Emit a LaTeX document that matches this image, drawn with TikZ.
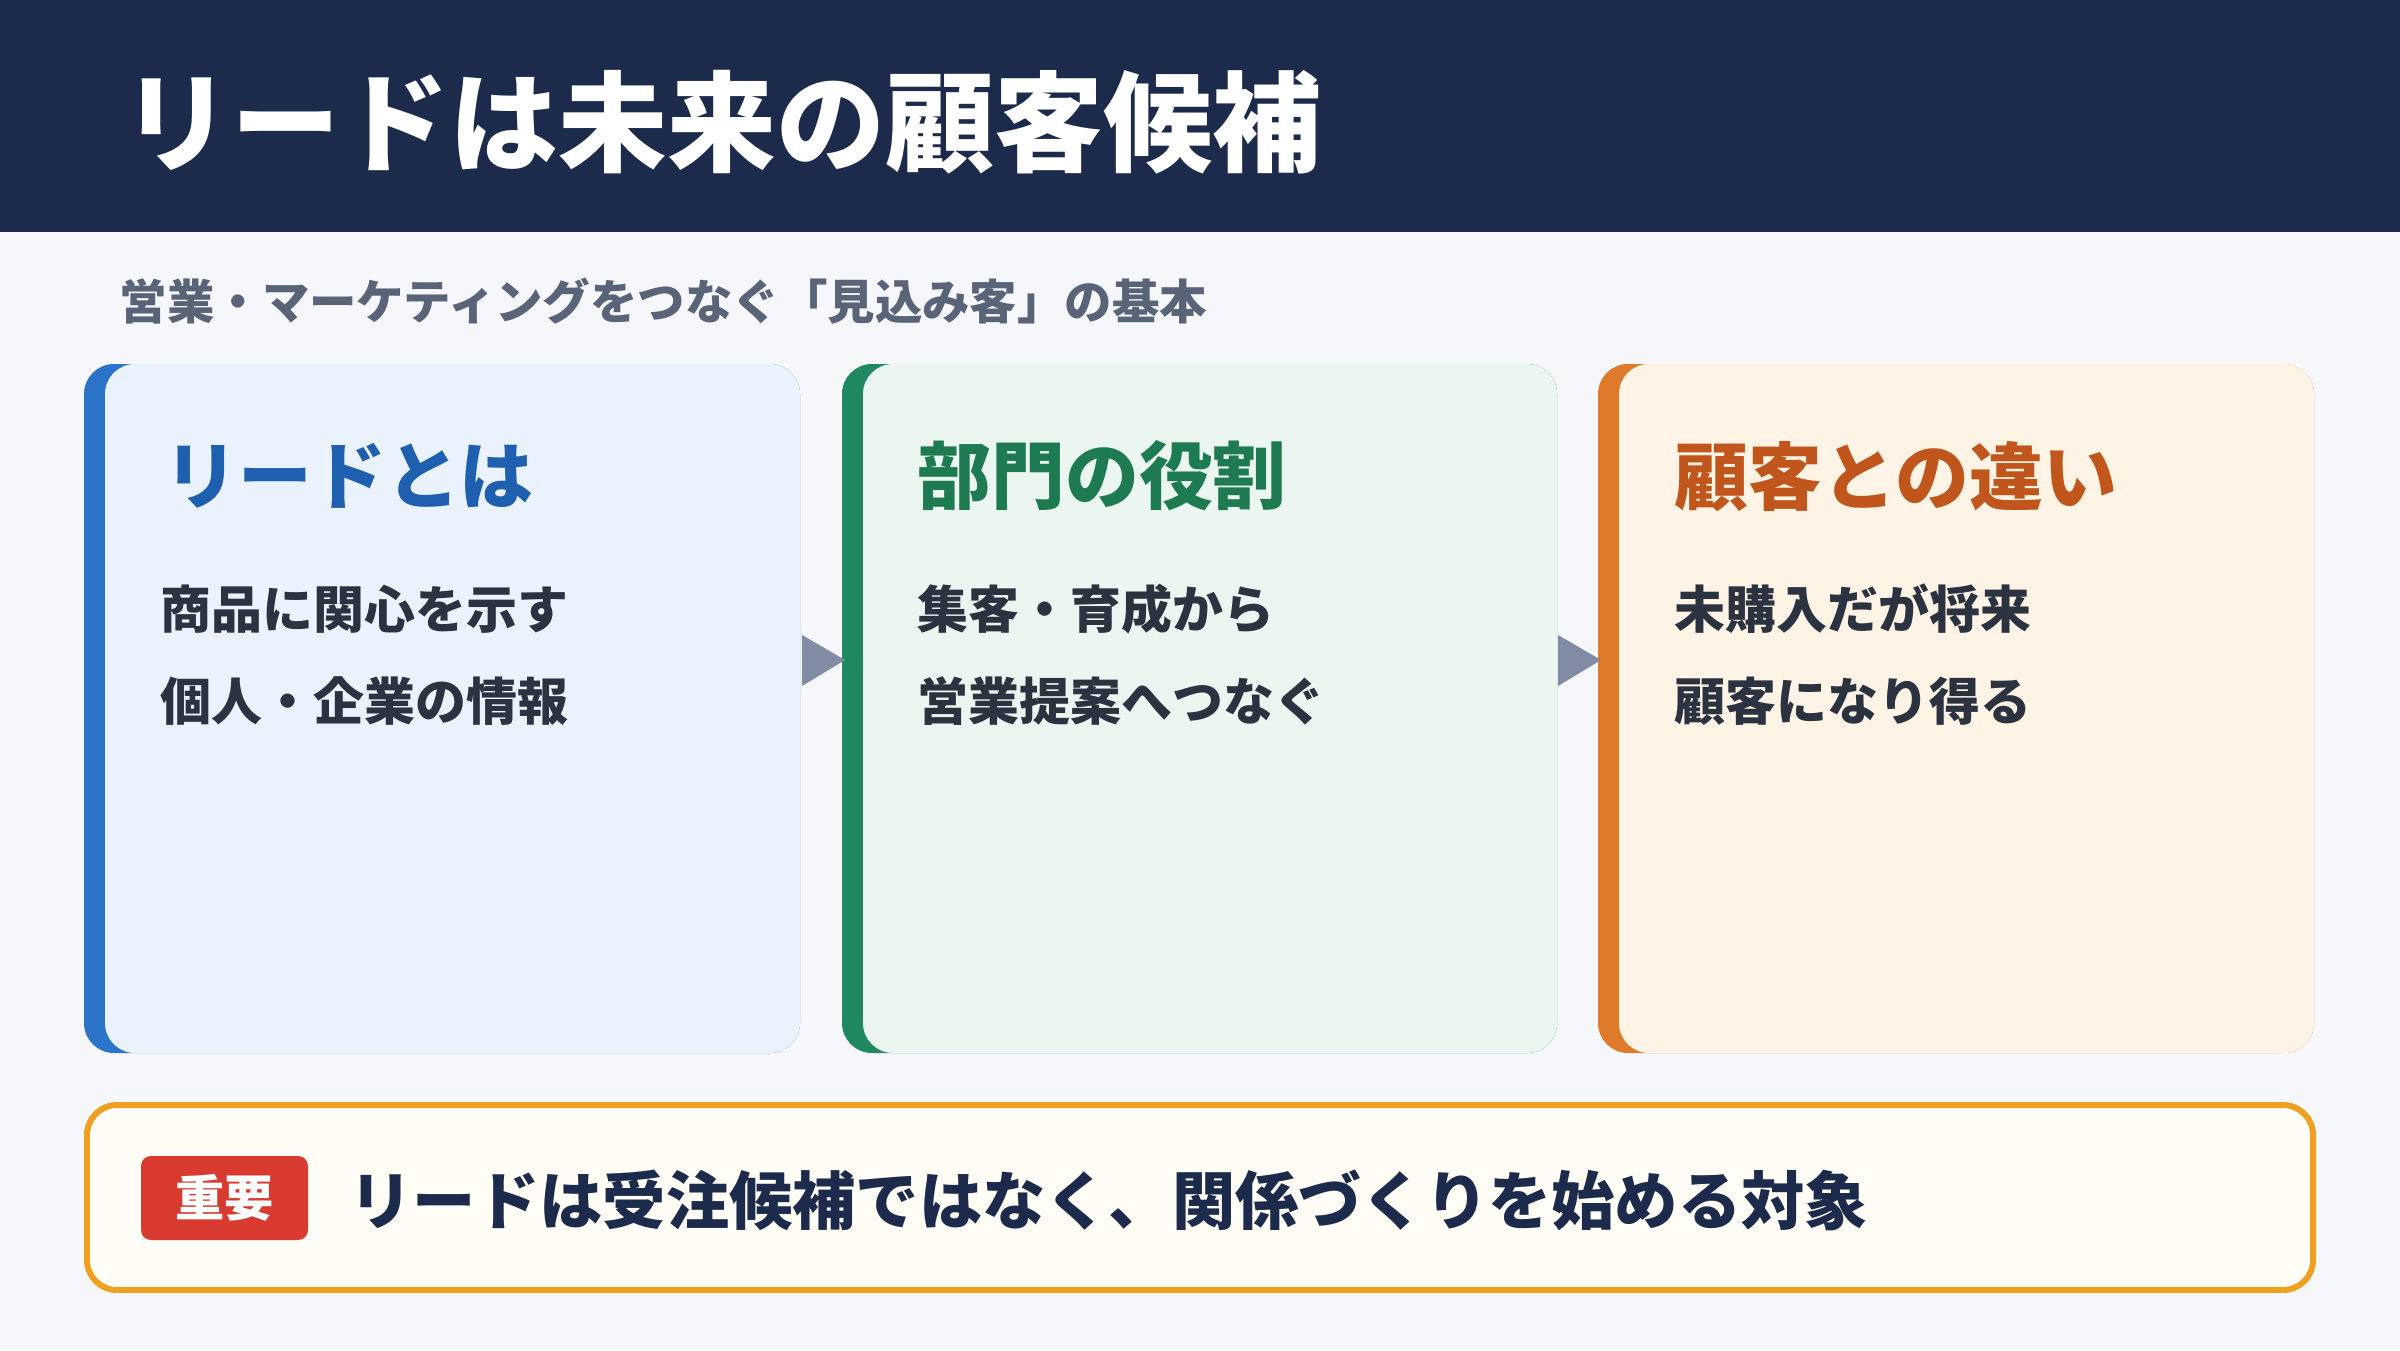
\documentclass[tikz,border=0pt]{standalone}
\usepackage{fontspec}
\setmainfont{Noto Sans CJK JP}
\usepackage{xcolor}
\definecolor{navy}{HTML}{1C2B4B}
\definecolor{pagebg}{HTML}{F5F7FB}
\definecolor{subgray}{HTML}{5A6478}
\definecolor{bodytxt}{HTML}{2B3340}
\definecolor{blueacc}{HTML}{2B74C9}
\definecolor{bluebg}{HTML}{EAF2FE}
\definecolor{bluetxt}{HTML}{1F5FB0}
\definecolor{greenacc}{HTML}{21895F}
\definecolor{greenbg}{HTML}{EAF6EF}
\definecolor{greentxt}{HTML}{1E7A50}
\definecolor{orangeacc}{HTML}{E07A2B}
\definecolor{orangebg}{HTML}{FFF3E6}
\definecolor{orangetxt}{HTML}{C0561B}
\definecolor{arrowgray}{HTML}{7F8CA3}
\definecolor{noteedge}{HTML}{F0A020}
\definecolor{notebg}{HTML}{FFFDF5}
\definecolor{badgered}{HTML}{D93A30}

\begin{document}
\begin{tikzpicture}[
  cardtitle/.style={anchor=west, inner sep=0pt, font=\fontsize{21}{25}\selectfont\bfseries},
  cardbody/.style={anchor=west, inner sep=0pt, text=bodytxt, font=\fontsize{14.5}{18}\selectfont\bfseries},
  flowtip/.style={fill=arrowgray}]
  % Background and header
  \fill[pagebg] (0,0) rectangle (24,13.5);
  \useasboundingbox (0,0) rectangle (24,13.5);
  \fill[navy] (0,11.18) rectangle (24,13.5);
  \node[anchor=west, inner sep=0pt, text=white, font=\fontsize{31}{36}\selectfont\bfseries] (title) at (1.22, 12.28) {リードは未来の顧客候補};
  \node[anchor=west, inner sep=0pt, text=subgray, font=\fontsize{13.5}{16}\selectfont\bfseries] (subtitle) at (1.19, 10.49) {営業・マーケティングをつなぐ「見込み客」の基本};

  % Card 1
  \fill[blueacc, rounded corners=0.3cm] (0.84,2.97) rectangle (8.00,9.86);
  \fill[bluebg, rounded corners=0.3cm] (1.05,2.97) rectangle (8.00,9.86);
  \node[cardtitle, text=bluetxt] (lead) at (1.64, 8.74) {リードとは};
  \node[cardbody] (leadA) at (1.60, 7.41) {商品に関心を示す};
  \node[cardbody] (leadB) at (1.60, 6.49) {個人・企業の情報};
  % Card 2
  \fill[greenacc, rounded corners=0.3cm] (8.42,2.97) rectangle (15.57,9.86);
  \fill[greenbg, rounded corners=0.3cm] (8.63,2.97) rectangle (15.57,9.86);
  \node[cardtitle, text=greentxt] (role) at (9.17, 8.74) {部門の役割};
  \node[cardbody] (roleA) at (9.17, 7.41) {集客・育成から};
  \node[cardbody] (roleB) at (9.17, 6.49) {営業提案へつなぐ};
  % Card 3
  \fill[orangeacc, rounded corners=0.3cm] (15.98,2.97) rectangle (23.14,9.86);
  \fill[orangebg, rounded corners=0.3cm] (16.19,2.97) rectangle (23.14,9.86);
  \node[cardtitle, text=orangetxt] (diff) at (16.74, 8.74) {顧客との違い};
  \node[cardbody] (diffA) at (16.74, 7.41) {未購入だが将来};
  \node[cardbody] (diffB) at (16.74, 6.49) {顧客になり得る};

  % Flow arrows
  \fill[flowtip] (8.02,7.15) -- (8.45,6.90) -- (8.02,6.64) -- cycle;
  \fill[flowtip] (15.58,7.15) -- (16.01,6.90) -- (15.58,6.64) -- cycle;

  % Key point
  \draw[noteedge, line width=1.7pt, fill=notebg, rounded corners=0.3cm] (0.87,0.60) rectangle (23.13,2.45);
  \node[fill=badgered, rounded corners=0.1cm, minimum width=1.67cm, minimum height=0.84cm, inner sep=0pt,
        text=white, font=\fontsize{14}{16}\selectfont\bfseries] (badge) at (2.245,1.52) {重要};
  \node[anchor=west, inner sep=0pt, text=navy, font=\fontsize{18}{22}\selectfont\bfseries] (note) at (3.49,1.50) {リードは受注候補ではなく、関係づくりを始める対象};
\end{tikzpicture}
\end{document}
